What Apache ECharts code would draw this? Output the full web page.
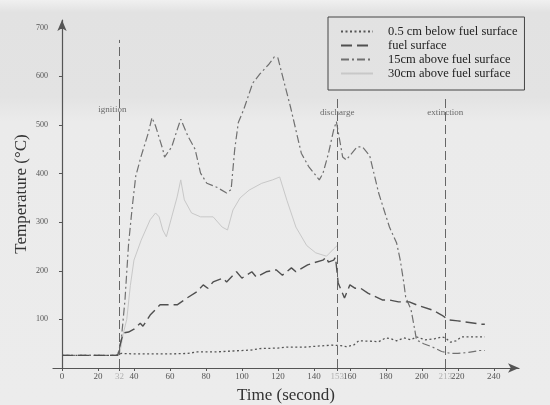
<!DOCTYPE html>
<html>
<head>
<meta charset="utf-8">
<script src="https://cdn.jsdelivr.net/npm/echarts@6/dist/echarts.min.js"></script>
<style>html,body{margin:0;padding:0;}#c{width:550px;height:405px;}</style>
</head>
<body>
<div id="c"></div>
<script>
// ---- data (time in s, temperature in °C) ----
const seriesNames = ['0.5 cm below fuel surface','fuel surface','15cm above fuel surface','30cm above fuel surface'];
const belowSurface = [[0,26],[30,26],[33,30],[40,29],[50,29],[60,29],[70,30],[75,33],[85,33],[95,35],[105,37],[110,40],[120,41],[125,43],[135,43],[142,45],[150,47],[155,46],[158,44],[162,47],[165,56],[172,55],[176,54],[180,62],[183,60],[186,56],[190,62],[194,58],[197,64],[202,58],[207,60],[211,64],[213,62],[216,53],[219,56],[222,64],[228,64],[235,64]];
const fuelSurface = [[0,26],[31,26],[32,43],[34,72],[37,74],[40,80],[43.5,92],[45,86],[49,109],[54.5,130],[64,130],[69.5,144],[75,157],[78.5,171],[81,164],[84,177],[89.5,185],[91.5,177],[97,198],[100,185],[105.5,198],[108,187],[113.5,198],[119,202],[122.5,191],[127.5,206],[130,198],[136.5,212],[139.5,216],[145,222],[147,228],[148,218],[151,222],[152,228],[153.5,175],[157,144],[160,171],[163,164],[166,164],[170,154],[178,140],[182,140],[187,136],[193,136],[197,130],[206,119],[211,109],[215,99],[220,97],[233,90],[235,90]];
const above15 = [[0,26],[31,26],[33,60],[35,140],[37,255],[39,330],[41,395],[44,436],[48,484],[50,515],[52,498],[56,450],[57,434],[61,455],[64,490],[66,512],[70,477],[74,450],[77,401],[80.5,380],[86,372],[91.5,360],[94,367],[96,450],[98,505],[101,532],[106,586],[110,605],[115,625],[118,640],[120,638],[124,580],[127,537],[133,442],[137,415],[143,387],[145,400],[148,440],[151,490],[152.5,507],[156,434],[158,428],[164,455],[167,455],[171,437],[176,360],[182,290],[186,257],[188,222],[190,175],[191,146],[194,120],[196,80],[197,58],[201,50],[206,43],[211,34],[216,30],[220,30],[226,32],[232,36],[235,36]];
const above30 = [[32,26],[34,70],[36,100],[38,170],[40,222],[44,263],[49,305],[52,319],[54,311],[56,284],[58,270],[61,311],[64,352],[66,387],[68,346],[72,319],[77,311],[84,311],[89,290],[92,284],[95,325],[99,350],[104,366],[111,380],[117,387],[121,393],[125,345],[130,290],[136,252],[141,237],[147,230],[151,245],[153,252]];
const eventTimes = [32,153,213];
const eventNames = ['ignition','discharge','extinction'];
const eventTops = [675,558,558];
const eventLabelPos = [[28,531],[153,526],[213,526]];
const xTicks = [0,20,32,40,60,80,100,120,140,153,160,180,200,213,220,240];
const yTicks = [100,200,300,400,500,600,700];

const serif = "'Liberation Serif','Times New Roman',serif";
const chart = echarts.init(document.getElementById('c'));
chart.setOption({
  animation: false,
  backgroundColor: {
    type: 'linear', x: 0, y: 0, x2: 0, y2: 1,
    colorStops: [
      {offset: 0, color: '#f0f0f0'},
      {offset: 0.03, color: '#e2e2e2'},
      {offset: 0.24, color: '#e3e3e3'},
      {offset: 0.3, color: '#ebebeb'},
      {offset: 1, color: '#ececec'}
    ]
  },
  grid: {left: 53, right: 31, top: 20, bottom: 37, outerBoundsMode: 'none'},
  legend: {
    orient: 'vertical', left: 328, top: 17,
    itemWidth: 32, itemHeight: 12, itemGap: 1,
    padding: [8, 7, 10, 12],
    borderColor: '#444', borderWidth: 1,
    itemStyle: {color: 'rgba(0,0,0,0)', borderColor: 'rgba(0,0,0,0)', borderWidth: 0},
    textStyle: {fontFamily: serif, fontSize: 12.5, color: '#222', padding: [0,0,0,10]},
    data: seriesNames
  },
  xAxis: {
    type: 'value', min: -5, max: 254,
    name: 'Time (second)', nameLocation: 'middle', nameGap: 19, nameMoveOverlap: false,
    nameTextStyle: {fontFamily: serif, fontSize: 17, color: '#333'},
    axisLine: {onZero: true, symbol: ['none','arrow'], symbolSize: [7,11], lineStyle: {color: '#555', width: 1.2}},
    axisTick: {customValues: xTicks, length: 3, inside: false, lineStyle: {color: '#555'}},
    axisLabel: {
      customValues: xTicks, margin: 4, fontFamily: serif, fontSize: 9, color: '#555',
      formatter: v => eventTimes.indexOf(v) >= 0 ? '{g|' + v + '}' : String(v),
      rich: {g: {color: '#b0b0b0', fontFamily: serif, fontSize: 9}}
    },
    splitLine: {show: false}
  },
  yAxis: {
    type: 'value', min: 0, max: 716,
    name: 'Temperature (°C)', nameLocation: 'middle', nameGap: 23, nameMoveOverlap: false,
    nameTextStyle: {fontFamily: serif, fontSize: 17, color: '#333'},
    axisLine: {show: true, onZero: true, symbol: ['none','arrow'], symbolSize: [7,11], lineStyle: {color: '#555', width: 1.2}},
    axisTick: {show: true, customValues: yTicks, length: 3, lineStyle: {color: '#555'}},
    axisLabel: {customValues: yTicks, margin: 5, fontFamily: serif, fontSize: 8, color: '#555'},
    splitLine: {show: false}
  },
  series: [
    {
      name: seriesNames[0], type: 'line', data: belowSurface, showSymbol: false, symbol: 'none',
      lineStyle: {color: '#555', width: 1.3, type: [2, 2.5]}, itemStyle: {color: '#555'},
      z: 3,
      markLine: {
        silent: true, symbol: 'none', label: {show: false},
        lineStyle: {color: '#666', width: 1, type: [9, 4]},
        data: eventTimes.map((t, i) => [{coord: [t, 0]}, {coord: [t, eventTops[i]]}])
      },
      markPoint: {
        silent: true, symbol: 'circle', symbolSize: 0,
        label: {show: true, position: 'inside', fontFamily: serif, fontSize: 9, color: '#6a6a6a', formatter: p => p.name},
        data: eventNames.map((n, i) => ({name: n, coord: eventLabelPos[i]}))
      }
    },
    {
      name: seriesNames[1], type: 'line', data: fuelSurface, showSymbol: false, symbol: 'none',
      lineStyle: {color: '#505050', width: 1.4, type: [11, 5]}, itemStyle: {color: '#505050'}, z: 4
    },
    {
      name: seriesNames[2], type: 'line', data: above15, showSymbol: false, symbol: 'none',
      lineStyle: {color: '#707070', width: 1.2, type: [8, 3, 2, 3]}, itemStyle: {color: '#707070'}, z: 3
    },
    {
      name: seriesNames[3], type: 'line', data: above30, showSymbol: false, symbol: 'none',
      lineStyle: {color: '#c8c8c8', width: 1}, itemStyle: {color: '#c8c8c8'}, z: 2
    }
  ]
});
</script>
</body>
</html>
